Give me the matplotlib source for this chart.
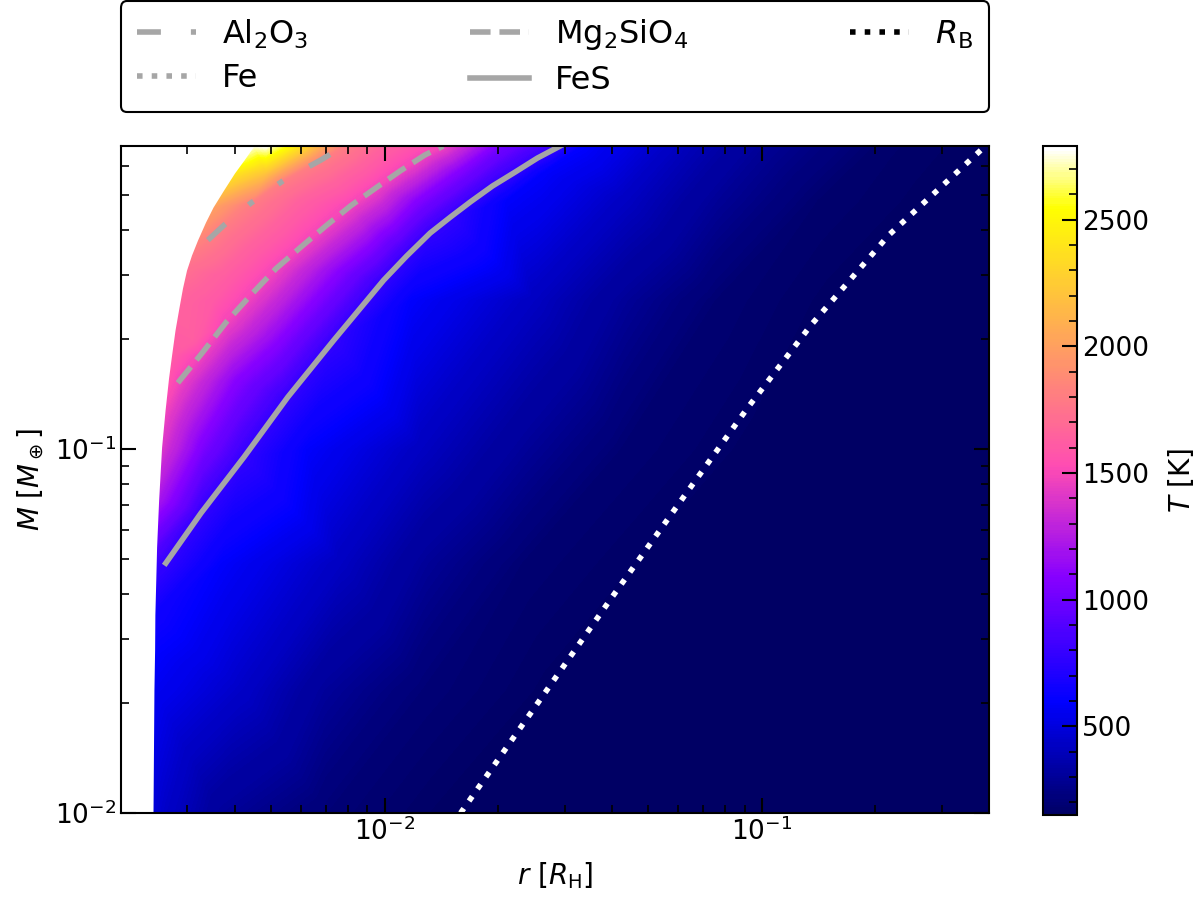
import numpy as np
import matplotlib
matplotlib.use('Agg')
import matplotlib.pyplot as plt
import matplotlib.tri as mtri
from matplotlib.colors import ListedColormap, Normalize
from matplotlib.cm import ScalarMappable
from matplotlib.lines import Line2D
from matplotlib.ticker import MultipleLocator, NullFormatter

# inner edge of the atmosphere grid and the temperature found there
edge_r = [0.00450, 0.004236, 0.003998, 0.003739, 0.003508, 0.003350, 0.003191,
          0.003076, 0.002984, 0.002912, 0.002851, 0.002782, 0.002724, 0.002674,
          0.002618, 0.002563, 0.002517, 0.002486, 0.00248, 0.00246, 0.002456,
          0.002446, 0.002432]
edge_M = [0.680, 0.622, 0.573, 0.514, 0.462, 0.420, 0.375,
          0.341, 0.310, 0.277, 0.2455, 0.2123, 0.1812, 0.1567,
          0.128, 0.1013, 0.0724, 0.0538, 0.0486, 0.035, 0.028,
          0.0218, 0.010]
edge_T = [2760, 2600, 2400, 2200, 2000, 1930, 1850,
          1780, 1720, 1680, 1650, 1620, 1600, 1560,
          1480, 1400, 1200, 900, 800, 650, 600,
          560, 480]

# condensation fronts (isotherms)
al_r = [0.00340, 0.00375, 0.00442, 0.00541, 0.00677, 0.00779]
al_M = [0.375, 0.412, 0.474, 0.548, 0.622, 0.680]
al_T = 1800
mg_r = [0.00283, 0.00326, 0.00380, 0.00442, 0.00515, 0.00600, 0.00698, 0.00813,
        0.00946, 0.0110, 0.0128, 0.0143]
mg_M = [0.152, 0.182, 0.223, 0.265, 0.313, 0.359, 0.410, 0.466,
        0.521, 0.581, 0.643, 0.680]
mg_T = 1480
fes_r = [0.00263, 0.00326, 0.00424, 0.00554, 0.00733, 0.00994, 0.01143, 0.0132,
         0.01495, 0.0169, 0.01931, 0.0222, 0.02541, 0.0292]
fes_M = [0.0486, 0.0667, 0.0951, 0.139, 0.199, 0.291, 0.3388, 0.392,
         0.434, 0.478, 0.5279, 0.577, 0.6301, 0.680]
fes_T = 770

# Bondi radius
rb_r = [0.0159, 0.0225, 0.0396, 0.0634, 0.0918, 0.135, 0.217, 0.371, 0.391]
rb_M = [0.010, 0.0167, 0.0385, 0.0762, 0.130, 0.219, 0.387, 0.646, 0.680]

# other temperature samples
pts_r = [0.00484, 0.00564, 0.00657, 0.00484,
         0.0104, 0.00600, 0.00380, 0.00347, 0.00310,
         0.0204, 0.0156, 0.0120, 0.00735, 0.00510, 0.00400, 0.00330, 0.00290,
         0.0330, 0.0630, 0.1007, 0.203, 0.40,
         0.0262, 0.0530,
         0.0209, 0.0440, 0.0760, 0.140, 0.287, 0.40,
         0.0117, 0.0250, 0.0440, 0.0750, 0.150, 0.40,
         0.00618, 0.0125, 0.0240, 0.0420, 0.100, 0.40,
         0.00366, 0.00769, 0.0130, 0.0230, 0.0550, 0.40,
         0.00416, 0.00690, 0.0125, 0.0270, 0.40,
         0.00263, 0.00368, 0.00700, 0.0135, 0.0350, 0.40]
pts_M = [0.680, 0.680, 0.680, 0.573,
         0.680, 0.483, 0.300, 0.257, 0.200,
         0.680, 0.577, 0.483, 0.310, 0.200, 0.155, 0.100, 0.070,
         0.680, 0.680, 0.680, 0.680, 0.680,
         0.577, 0.577,
         0.483, 0.483, 0.483, 0.483, 0.483, 0.483,
         0.257, 0.257, 0.257, 0.257, 0.257, 0.257,
         0.100, 0.100, 0.100, 0.100, 0.100, 0.100,
         0.0486, 0.0486, 0.0486, 0.0486, 0.0486, 0.0486,
         0.0218, 0.0218, 0.0218, 0.0218, 0.0218,
         0.010, 0.010, 0.010, 0.010, 0.010, 0.010]
pts_T = [2790, 2500, 2150, 2200,
         1620, 1640, 1620, 1600, 1620,
         1020, 1080, 1100, 1120, 1120, 1100, 1040, 980,
         600, 400, 290, 175, 150,
         590, 410,
         590, 420, 290, 180, 152, 150,
         590, 420, 290, 190, 155, 150,
         590, 420, 290, 190, 152, 150,
         590, 420, 290, 190, 152, 150,
         440, 300, 200, 155, 150,
         440, 300, 200, 158, 150, 150]

T_min, T_max = 150, 2790
x_lim = (0.002, 0.4)
y_lim = (0.01, 0.68)

gray = '#a6a6a6'
cmap = ListedColormap(plt.cm.gnuplot2(np.linspace(0.1, 1.0, 256)))
norm = Normalize(vmin=T_min, vmax=T_max)

# collect all samples (mirror edge values just left of the edge so the mesh covers the axes)
all_r = np.concatenate([edge_r, [0.0019] * len(edge_r), al_r, mg_r, fes_r, pts_r])
all_M = np.concatenate([edge_M, edge_M, al_M, mg_M, fes_M, pts_M])
all_T = np.concatenate([edge_T, edge_T, [al_T] * len(al_r), [mg_T] * len(mg_r),
                        [fes_T] * len(fes_r), pts_T])

fig = plt.figure(figsize=(12, 8.97), dpi=100)
rect = [0.1008, 0.0936, 0.7233, 0.7436]

# temperature map drawn in log10 space on a hidden axes
ax_bg = fig.add_axes(rect)
tri = mtri.Triangulation(np.log10(all_r), np.log10(all_M))
ax_bg.tricontourf(tri, all_T, levels=np.linspace(T_min, T_max, 265),
                  cmap=cmap, norm=norm, extend='both')
ax_bg.set_xlim(np.log10(x_lim[0]), np.log10(x_lim[1]))
ax_bg.set_ylim(np.log10(y_lim[0]), np.log10(y_lim[1]))
ax_bg.axis('off')

ax = fig.add_axes(rect)
ax.set_facecolor('none')
ax.set_xscale('log')
ax.set_yscale('log')
ax.set_xlim(*x_lim)
ax.set_ylim(*y_lim)

# no solution inside the inner edge
ax.fill_betweenx(edge_M, 1e-3, edge_r, color='white', lw=0, zorder=1)

lw = 4
al_ls = (0, (4.3, 5.4, 1.08, 5.4, 1.08, 5.4))
ax.plot(al_r, al_M, color=gray, lw=lw, ls=al_ls, zorder=3)
ax.plot(mg_r, mg_M, color=gray, lw=lw, ls='--', zorder=3)
ax.plot(fes_r, fes_M, color=gray, lw=lw, ls='-', zorder=3)
ax.plot(rb_r, rb_M, color='white', lw=lw, ls=':', zorder=3)

handles = [
    Line2D([], [], color=gray, lw=lw, ls=al_ls, label=r'Al$_2$O$_3$'),
    Line2D([], [], color=gray, lw=lw, ls=':', label='Fe'),
    Line2D([], [], color=gray, lw=lw, ls='--', label=r'Mg$_2$SiO$_4$'),
    Line2D([], [], color=gray, lw=lw, ls='-', label='FeS'),
    Line2D([], [], color='black', lw=lw, ls=':', label=r'$R_{\rm B}$'),
]
leg = ax.legend(handles=handles, ncol=3, loc='lower left', mode='expand',
                bbox_to_anchor=(0, 1.051, 1, 0.1), borderaxespad=0,
                fontsize=23, handlelength=1.85, labelspacing=0.4, borderpad=0.5,
                frameon=True, fancybox=True, framealpha=1, edgecolor='black')
leg.get_frame().set_linewidth(1.5)

ax.set_xlabel(r'$r\ [R_{\rm H}]$', fontsize=20, labelpad=10)
ax.set_ylabel(r'$M\ [M_\oplus]$', fontsize=20, labelpad=6)
ax.tick_params(which='both', direction='in', top=True, right=True, labelsize=19)
ax.tick_params(which='major', length=11, width=1.5)
ax.tick_params(which='minor', length=6, width=1.2)
ax.xaxis.set_minor_formatter(NullFormatter())
ax.yaxis.set_minor_formatter(NullFormatter())
for s in ax.spines.values():
    s.set_linewidth(1.5)
    s.set_zorder(4)

cax = fig.add_axes([0.8692, 0.0914, 0.0283, 0.7458])
cb = fig.colorbar(ScalarMappable(norm=norm, cmap=cmap), cax=cax)
cb.set_ticks([500, 1000, 1500, 2000, 2500])
cb.ax.yaxis.set_minor_locator(MultipleLocator(100))
cb.ax.tick_params(which='both', direction='in', labelsize=19)
cb.ax.tick_params(which='major', length=11, width=1.5)
cb.ax.tick_params(which='minor', length=6, width=1.2)
cb.outline.set_linewidth(1.5)
cb.set_label(r'$T$ [K]', fontsize=20, labelpad=12)

fig.savefig('out.png', dpi=100)
